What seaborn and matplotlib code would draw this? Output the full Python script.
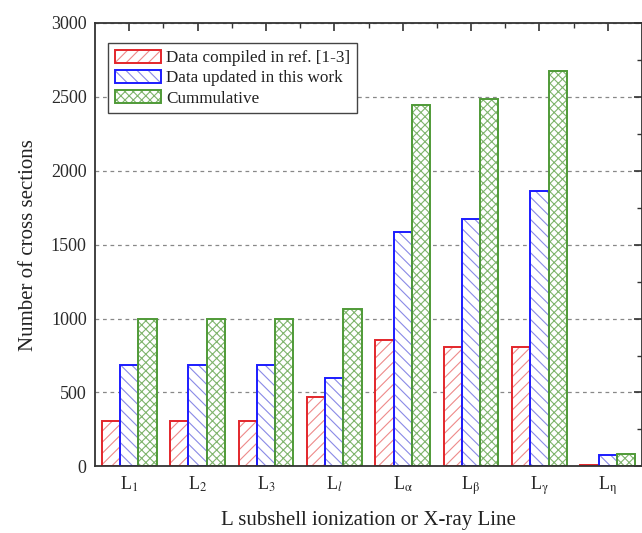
import matplotlib
matplotlib.use('Agg')
import matplotlib.pyplot as plt
import seaborn as sns
import pandas as pd
from matplotlib.patches import Patch
from matplotlib.legend_handler import HandlerTuple
from matplotlib.ticker import MultipleLocator, FixedLocator

# ---- data ----
categories = ['L1', 'L2', 'L3', 'Ll', 'La', 'Lb', 'Lg', 'Le']
tick_labels = [r'L$_{\mathrm{1}}$', r'L$_{\mathrm{2}}$', r'L$_{\mathrm{3}}$', r'L$_{\mathit{l}}$',
               r'L$_{\mathrm{\alpha}}$', r'L$_{\mathrm{\beta}}$', r'L$_{\mathrm{\gamma}}$',
               r'L$_{\mathrm{\eta}}$']
series_names = ['Data compiled in ref. [1-3]', 'Data updated in this work', 'Cummulative']
compiled = [308, 308, 308, 468, 855, 805, 805, 12]
updated = [685, 685, 685, 597, 1585, 1675, 1865, 75]
cumulative = [995, 995, 995, 1063, 2445, 2483, 2676, 87]

df = pd.DataFrame({
    'line': categories * 3,
    'series': [s for s in series_names for _ in categories],
    'count': compiled + updated + cumulative,
})

sns.set_theme(style='white')
plt.rcParams['font.family'] = ['Liberation Serif', 'DejaVu Serif']
plt.rcParams['mathtext.fontset'] = 'stix'
plt.rcParams['hatch.linewidth'] = 0.8

edge_colors = ['#e3262b', '#1c1cff', '#4f9a37']
hatch_colors = ['#ee8a8a', '#8a8ae6', '#7fb46c']
hatches = ['///', '\\\\\\', 'xxxx']

fig = plt.figure(figsize=(6.42, 5.33), dpi=100)
ax = fig.add_axes([0.148, 0.125, 0.852, 0.832])

# hatch layer
sns.barplot(data=df, x='line', y='count', hue='series', order=categories,
            hue_order=series_names, palette=['white'] * 3, errorbar=None,
            legend=False, ax=ax, width=0.8)
for i, cont in enumerate(ax.containers):
    for p in cont:
        p.set_facecolor('white')
        p.set_edgecolor(hatch_colors[i])
        p.set_hatch(hatches[i])
        p.set_linewidth(0)
n_first = len(ax.containers)

# outline layer
sns.barplot(data=df, x='line', y='count', hue='series', order=categories,
            hue_order=series_names, palette=edge_colors, errorbar=None,
            legend=False, ax=ax, width=0.8, fill=False, linewidth=1.4)
for i, cont in enumerate(ax.containers[n_first:]):
    for p in cont:
        p.set_facecolor('none')
        p.set_edgecolor(edge_colors[i])
        p.set_linewidth(1.4)

ax.set_xlim(-0.5, 7.5)
ax.set_ylim(0, 3000)
ax.set_xticks(range(len(categories)))
ax.set_xticklabels(tick_labels)
ax.xaxis.set_minor_locator(FixedLocator([k + 0.5 for k in range(len(categories) - 1)]))
ax.yaxis.set_major_locator(MultipleLocator(500))
ax.yaxis.set_minor_locator(MultipleLocator(250))

ax.tick_params(which='both', direction='in', top=True, right=True,
               color='#333333', labelsize=13, labelcolor='#2a2a2a')
ax.tick_params(which='major', length=6, width=1.2, pad=6)
ax.tick_params(which='minor', length=3.5, width=1.0)

ax.yaxis.grid(True, linestyle=(0, (3, 3)), color='#888888', linewidth=0.9)
ax.xaxis.grid(False)
ax.set_axisbelow(True)
for s in ax.spines.values():
    s.set_color('#333333')
    s.set_linewidth(1.3)
    s.set_visible(True)

ax.set_xlabel('L subshell ionization or X-ray Line', fontsize=15, color='#222222', labelpad=10)
ax.set_ylabel('Number of cross sections', fontsize=15, color='#222222', labelpad=9)

handles = []
for i in range(3):
    h1 = Patch(facecolor='white', edgecolor=hatch_colors[i], hatch=hatches[i], linewidth=0)
    h2 = Patch(facecolor='none', edgecolor=edge_colors[i], linewidth=1.4)
    handles.append((h1, h2))
leg = ax.legend(handles, series_names, handler_map={tuple: HandlerTuple(ndivide=1)},
                loc='upper left', bbox_to_anchor=(0.024, 0.955), borderaxespad=0,
                fontsize=12.3, fancybox=False, framealpha=1, edgecolor='#444444',
                handlelength=2.7, handleheight=0.8, labelspacing=0.22,
                handletextpad=0.3, borderpad=0.4)
leg.get_frame().set_linewidth(1.0)
for t in leg.get_texts():
    t.set_color('#222222')

fig.savefig('out.png', dpi=100)
